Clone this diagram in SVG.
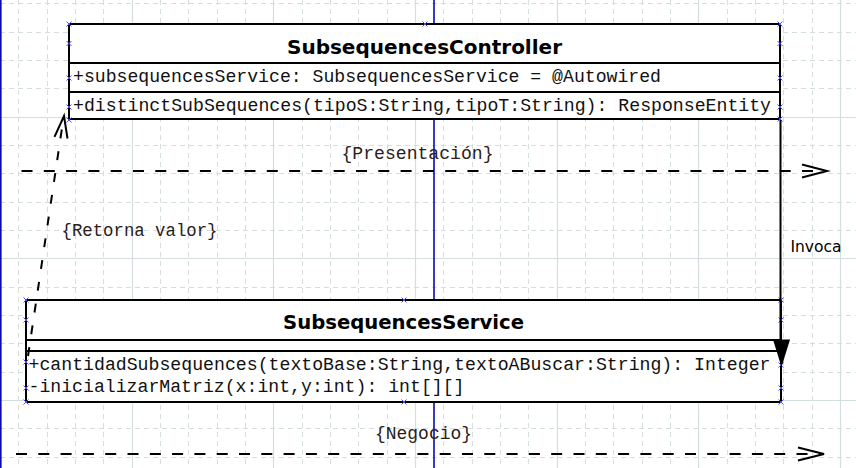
<svg xmlns="http://www.w3.org/2000/svg" width="856" height="468" viewBox="0 0 856 468">
<defs>
<style>
.gminor{fill:none;stroke:#d4dede;stroke-width:1;stroke-dasharray:5 4}
.gmajor{fill:none;stroke:#d4dede;stroke-width:1.2}
.guide{stroke:#0a0ab0;stroke-width:1.6}
.box{fill:#ffffff;stroke:#000;stroke-width:2}
.div{stroke:#000;stroke-width:2}
.title{font-family:"DejaVu Sans","Liberation Sans",sans-serif;font-weight:bold;font-size:20px;fill:#000}
.mono{font-family:"Liberation Mono","DejaVu Sans Mono",monospace;font-size:18px;fill:#111}
.lbl{font-family:"Liberation Mono","DejaVu Sans Mono",monospace;font-size:18px;fill:#2a2018}
.inv{font-family:"DejaVu Sans","Liberation Sans",sans-serif;font-size:16px;fill:#000}
.dash{fill:none;stroke:#000;stroke-width:2;stroke-dasharray:11 11.3}
.sl{fill:none;stroke:#000;stroke-width:2}
.hm{fill:none;stroke:#4a4aff;stroke-width:1}
</style>
<path id="xm" d="M-2.5,-2.5 L2.5,2.5 M-2.5,2.5 L2.5,-2.5" class="hm"/>
</defs>
<rect x="0" y="0" width="856" height="468" fill="#ffffff"/>
<g id="grid">
<path class="gminor" d="M18.5,0V468M47.5,0V468M75.5,0V468M103.5,0V468M160.5,0V468M188.5,0V468M217.5,0V468M245.5,0V468M302.5,0V468M330.5,0V468M358.5,0V468M387.5,0V468M443.5,0V468M472.5,0V468M500.5,0V468M528.5,0V468M585.5,0V468M613.5,0V468M642.5,0V468M670.5,0V468M727.5,0V468M755.5,0V468M783.5,0V468M812.5,0V468M0,3.5H856M0,32.5H856M0,60.5H856M0,88.5H856M0,145.5H856M0,173.5H856M0,202.5H856M0,230.5H856M0,287.5H856M0,315.5H856M0,343.5H856M0,372.5H856M0,428.5H856M0,457.5H856"/>
<path class="gmajor" d="M132.5,0V468M273.5,0V468M415.5,0V468M557.5,0V468M698.5,0V468M840.5,0V468M0,117.5H856M0,258.5H856M0,400.5H856"/>
<line class="guide" x1="434" y1="0" x2="434" y2="468"/>
<line class="guide" x1="0.8" y1="0" x2="0.8" y2="468"/>
</g>
<g id="SubsequencesController">
<rect class="box" x="69" y="24" width="711" height="95"/>
<line class="div" x1="69" y1="63" x2="780" y2="63"/>
<line class="div" x1="69" y1="92" x2="780" y2="92"/>
<text class="title" x="424.5" y="53.5" text-anchor="middle" textLength="275" lengthAdjust="spacingAndGlyphs">SubsequencesController</text>
<text class="mono" x="73" y="82" textLength="588" lengthAdjust="spacingAndGlyphs">+subsequencesService: SubsequencesService = @Autowired</text>
<text class="mono" x="73" y="110.5" textLength="698" lengthAdjust="spacingAndGlyphs">+distinctSubSequences(tipoS:String,tipoT:String): ResponseEntity</text>
<use href="#xm" x="69" y="24"/><use href="#xm" x="69" y="43.5"/><use href="#xm" x="69" y="78"/><use href="#xm" x="69" y="107"/><use href="#xm" x="69" y="120"/>
<use href="#xm" x="780" y="24"/><use href="#xm" x="780" y="43.5"/><use href="#xm" x="780" y="78"/><use href="#xm" x="780" y="107"/><use href="#xm" x="780" y="119"/>
<use href="#xm" x="425" y="24"/>
</g>
<g id="SubsequencesService">
<rect class="box" x="26" y="300" width="755" height="102"/>
<line class="div" x1="26" y1="340" x2="781" y2="340"/>
<line class="div" x1="26" y1="351" x2="781" y2="351"/>
<text class="title" x="403.5" y="328.5" text-anchor="middle" textLength="241" lengthAdjust="spacingAndGlyphs">SubsequencesService</text>
<text class="mono" x="28.5" y="370" textLength="742" lengthAdjust="spacingAndGlyphs">+cantidadSubsequences(textoBase:String,textoABuscar:String): Integer</text>
<text class="mono" x="28.5" y="391.5" textLength="436" lengthAdjust="spacingAndGlyphs">-inicializarMatriz(x:int,y:int): int[][]</text>
<use href="#xm" x="26" y="300"/><use href="#xm" x="26" y="320"/><use href="#xm" x="26" y="362"/><use href="#xm" x="26" y="388"/><use href="#xm" x="26" y="402"/>
<use href="#xm" x="781" y="300"/><use href="#xm" x="781" y="320"/><use href="#xm" x="781" y="365"/><use href="#xm" x="781" y="388"/><use href="#xm" x="781" y="402"/>
<use href="#xm" x="404" y="300"/><use href="#xm" x="404" y="402"/>
</g>
<g id="connectors">
<g id="invoca">
<line class="sl" x1="780.5" y1="120" x2="780.5" y2="342"/>
<polygon points="773,339.5 790,339.5 781.5,367" fill="#000"/>
<text class="inv" x="790.5" y="251.5" textLength="51" lengthAdjust="spacingAndGlyphs">Invoca</text>
</g>
<g id="retorna">
<path class="dash" style="stroke-dasharray:9 13" d="M28,356 L63.5,118"/>
<path class="sl" d="M54.5,136.8 L64,116 L67.5,138.5"/>
<text class="lbl" x="61.5" y="235.5" textLength="156" lengthAdjust="spacingAndGlyphs">{Retorna valor}</text>
</g>
<g id="presentacion">
<path class="dash" d="M21.5,171 H826"/>
<path class="sl" d="M802,164.5 L827,171 L802,177.5"/>
<text class="lbl" x="341.5" y="159" textLength="152" lengthAdjust="spacingAndGlyphs">{Presentación}</text>
</g>
<g id="negocio">
<path class="dash" d="M16,454 H824"/>
<path class="sl" d="M798,447.5 L824,454 L798,460.5"/>
<text class="lbl" x="375" y="438.5" textLength="97" lengthAdjust="spacingAndGlyphs">{Negocio}</text>
</g>
</g>
</svg>
